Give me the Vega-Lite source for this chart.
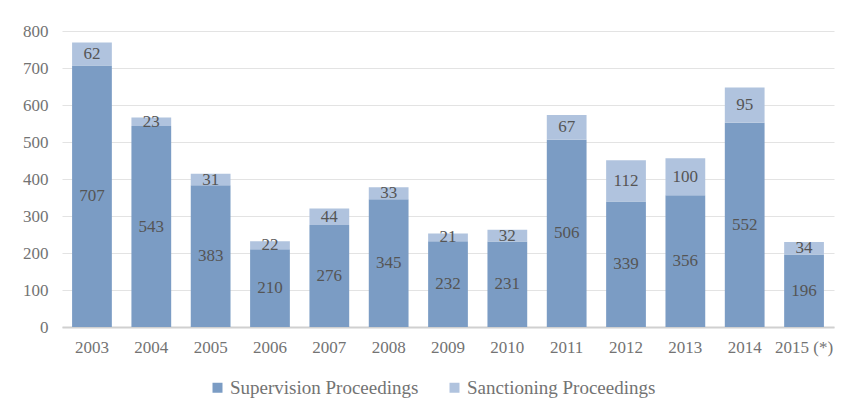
{
  "$schema": "https://vega.github.io/schema/vega-lite/v6.json",
  "width": 772,
  "height": 296,
  "autosize": {"type": "none"},
  "padding": {"left": 62, "top": 31, "right": 12, "bottom": 87},
  "background": "white",
  "config": {
    "view": {"stroke": null},
    "font": "Times New Roman, Liberation Serif, serif",
    "axis": {"labelFont": "Times New Roman, Liberation Serif, serif", "labelFontSize": 17, "labelColor": "#737373"},
    "legend": {"labelFont": "Times New Roman, Liberation Serif, serif", "labelFontSize": 19, "labelColor": "#737373", "labelLimit": 400}
  },
  "data": {
    "values": [
      {"year": "2003", "type": "Supervision Proceedings", "k": 0, "n": 707},
      {"year": "2003", "type": "Sanctioning Proceedings", "k": 1, "n": 62},
      {"year": "2004", "type": "Supervision Proceedings", "k": 0, "n": 543},
      {"year": "2004", "type": "Sanctioning Proceedings", "k": 1, "n": 23},
      {"year": "2005", "type": "Supervision Proceedings", "k": 0, "n": 383},
      {"year": "2005", "type": "Sanctioning Proceedings", "k": 1, "n": 31},
      {"year": "2006", "type": "Supervision Proceedings", "k": 0, "n": 210},
      {"year": "2006", "type": "Sanctioning Proceedings", "k": 1, "n": 22},
      {"year": "2007", "type": "Supervision Proceedings", "k": 0, "n": 276},
      {"year": "2007", "type": "Sanctioning Proceedings", "k": 1, "n": 44},
      {"year": "2008", "type": "Supervision Proceedings", "k": 0, "n": 345},
      {"year": "2008", "type": "Sanctioning Proceedings", "k": 1, "n": 33},
      {"year": "2009", "type": "Supervision Proceedings", "k": 0, "n": 232},
      {"year": "2009", "type": "Sanctioning Proceedings", "k": 1, "n": 21},
      {"year": "2010", "type": "Supervision Proceedings", "k": 0, "n": 231},
      {"year": "2010", "type": "Sanctioning Proceedings", "k": 1, "n": 32},
      {"year": "2011", "type": "Supervision Proceedings", "k": 0, "n": 506},
      {"year": "2011", "type": "Sanctioning Proceedings", "k": 1, "n": 67},
      {"year": "2012", "type": "Supervision Proceedings", "k": 0, "n": 339},
      {"year": "2012", "type": "Sanctioning Proceedings", "k": 1, "n": 112},
      {"year": "2013", "type": "Supervision Proceedings", "k": 0, "n": 356},
      {"year": "2013", "type": "Sanctioning Proceedings", "k": 1, "n": 100},
      {"year": "2014", "type": "Supervision Proceedings", "k": 0, "n": 552},
      {"year": "2014", "type": "Sanctioning Proceedings", "k": 1, "n": 95},
      {"year": "2015 (*)", "type": "Supervision Proceedings", "k": 0, "n": 196},
      {"year": "2015 (*)", "type": "Sanctioning Proceedings", "k": 1, "n": 34}
    ]
  },
  "encoding": {
    "x": {
      "field": "year",
      "type": "nominal",
      "sort": null,
      "scale": {"paddingInner": 0.33, "paddingOuter": 0.17},
      "axis": {
        "title": null,
        "labelAngle": 0,
        "ticks": false,
        "domainColor": "#d0d0d0",
        "domainWidth": 2,
        "labelPadding": 12
      }
    },
    "y": {
      "field": "n",
      "type": "quantitative",
      "stack": "zero",
      "scale": {"domain": [0, 800]},
      "axis": {
        "title": null,
        "values": [0, 100, 200, 300, 400, 500, 600, 700, 800],
        "domain": false,
        "ticks": false,
        "gridColor": "#e3e3e3",
        "gridWidth": 1.2,
        "labelPadding": 14
      }
    },
    "order": {"field": "k", "type": "quantitative"}
  },
  "layer": [
    {
      "mark": {"type": "bar"},
      "encoding": {
        "color": {
          "field": "type",
          "type": "nominal",
          "scale": {
            "domain": ["Supervision Proceedings", "Sanctioning Proceedings"],
            "range": ["#7b9cc4", "#b0c3de"]
          },
          "legend": {
            "title": null,
            "orient": "none",
            "direction": "horizontal",
            "legendX": 146,
            "legendY": 347,
            "symbolType": "square",
            "symbolSize": 100,
            "symbolStrokeWidth": 0,
            "columnPadding": 26,
            "labelOffset": 3
          }
        }
      }
    },
    {
      "mark": {"type": "text", "fontSize": 17, "color": "#555555", "font": "Times New Roman, Liberation Serif, serif"},
      "encoding": {
        "y": {"field": "n", "type": "quantitative", "stack": "zero", "bandPosition": 0.5},
        "text": {"field": "n", "type": "quantitative"}
      }
    }
  ]
}
